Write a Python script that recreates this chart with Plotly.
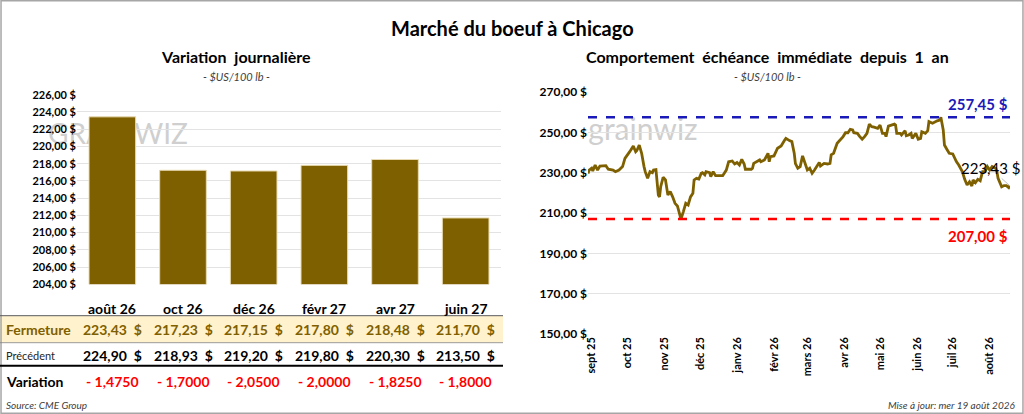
# Marché du boeuf à Chicago : variation journalière + comportement de l'échéance immédiate sur 1 an
import plotly.graph_objects as go

# --- Variation journalière (par échéance) ---
contracts = ["août 26", "oct 26", "déc 26", "févr 27", "avr 27", "juin 27"]
fermeture = [223.43, 217.23, 217.15, 217.80, 218.48, 211.70]
precedent = [224.90, 218.93, 219.20, 219.80, 220.30, 213.50]
variation = [-1.4750, -1.7000, -2.0500, -2.0000, -1.8250, -1.8000]

# --- Échéance immédiate depuis 1 an ---
dates = [
    "2025-08-29", "2025-08-30", "2025-09-01", "2025-09-02", "2025-09-04", "2025-09-06",
    "2025-09-08", "2025-09-10", "2025-09-13", "2025-09-15", "2025-09-19", "2025-09-21",
    "2025-09-24", "2025-09-27", "2025-09-29", "2025-10-03", "2025-10-06", "2025-10-08",
    "2025-10-09", "2025-10-11", "2025-10-13", "2025-10-15", "2025-10-16", "2025-10-18",
    "2025-10-20", "2025-10-22", "2025-10-23", "2025-10-25", "2025-10-26", "2025-10-27",
    "2025-10-28", "2025-10-29", "2025-10-31", "2025-11-02", "2025-11-04", "2025-11-06",
    "2025-11-08", "2025-11-10", "2025-11-12", "2025-11-14", "2025-11-15", "2025-11-17",
    "2025-11-19", "2025-11-21", "2025-11-23", "2025-11-25", "2025-11-26", "2025-11-28",
    "2025-11-30", "2025-12-02", "2025-12-03", "2025-12-05", "2025-12-06", "2025-12-09",
    "2025-12-10", "2025-12-12", "2025-12-14", "2025-12-20", "2025-12-23", "2025-12-25",
    "2025-12-28", "2025-12-30", "2026-01-01", "2026-01-03", "2026-01-05", "2026-01-07",
    "2026-01-08", "2026-01-13", "2026-01-14", "2026-01-15", "2026-01-18", "2026-01-20",
    "2026-01-21", "2026-01-24", "2026-01-27", "2026-01-28", "2026-01-29", "2026-02-01",
    "2026-02-04", "2026-02-07", "2026-02-10", "2026-02-11", "2026-02-14", "2026-02-16",
    "2026-02-18", "2026-02-19", "2026-02-21", "2026-02-23", "2026-02-25", "2026-02-27",
    "2026-03-01", "2026-03-03", "2026-03-05", "2026-03-07", "2026-03-09", "2026-03-11",
    "2026-03-12", "2026-03-15", "2026-03-18", "2026-03-20", "2026-03-21", "2026-03-23",
    "2026-03-26", "2026-03-29", "2026-03-31", "2026-04-02", "2026-04-04", "2026-04-06",
    "2026-04-08", "2026-04-09", "2026-04-12", "2026-04-14", "2026-04-16", "2026-04-18",
    "2026-04-20", "2026-04-22", "2026-04-24", "2026-04-26", "2026-04-29", "2026-05-01",
    "2026-05-03", "2026-05-05", "2026-05-06", "2026-05-08", "2026-05-10", "2026-05-13",
    "2026-05-14", "2026-05-15", "2026-05-18", "2026-05-19", "2026-05-22", "2026-05-23",
    "2026-05-25", "2026-05-27", "2026-05-28", "2026-05-31", "2026-06-02", "2026-06-04",
    "2026-06-05", "2026-06-08", "2026-06-10", "2026-06-11", "2026-06-14", "2026-06-16",
    "2026-06-18", "2026-06-20", "2026-06-21", "2026-06-23", "2026-06-24", "2026-06-26",
    "2026-06-28", "2026-07-01", "2026-07-03", "2026-07-04", "2026-07-06", "2026-07-09",
    "2026-07-11", "2026-07-13", "2026-07-15", "2026-07-17", "2026-07-18", "2026-07-20",
    "2026-07-22", "2026-07-24", "2026-07-26", "2026-07-28", "2026-07-30", "2026-08-01",
    "2026-08-03", "2026-08-06", "2026-08-07", "2026-08-08", "2026-08-11", "2026-08-13",
    "2026-08-15", "2026-08-17", "2026-08-18",
]
prices = [
    229.6, 231.3, 232.2, 230.8, 233.8, 231.3,
    233.3, 233.5, 233.5, 231.7, 231.3, 230.5,
    231.3, 233.0, 237.1, 240.4, 243.2, 240.4,
    241.0, 243.7, 239.6, 233.0, 230.5, 227.2,
    230.5, 230.0, 231.3, 231.5, 224.7, 218.9,
    218.0, 223.0, 227.7, 226.4, 218.9, 220.6,
    218.0, 214.8, 213.5, 209.9, 207.0, 210.7,
    214.8, 214.0, 218.0, 219.8, 226.4, 227.2,
    226.8, 229.7, 230.0, 228.9, 230.5, 230.0,
    228.0, 230.5, 228.5, 228.5, 231.3, 235.4,
    235.8, 234.3, 235.0, 233.8, 236.6, 234.3,
    231.7, 231.7, 232.2, 234.6, 235.4, 236.3,
    235.4, 236.3, 239.6, 235.4, 237.9, 238.3,
    242.1, 243.2, 246.2, 247.0, 245.9, 245.4,
    239.6, 234.5, 232.2, 233.0, 238.3, 235.0,
    231.3, 232.2, 229.7, 231.3, 233.0, 235.0,
    233.3, 234.6, 234.3, 234.6, 238.8, 239.6,
    244.6, 246.6, 247.9, 249.8, 249.8, 251.5,
    251.2, 249.8, 249.5, 247.9, 246.6, 247.9,
    249.5, 254.1, 252.8, 252.6, 252.0, 253.6,
    249.5, 249.5, 247.9, 253.1, 253.6, 254.1,
    253.6, 249.5, 249.5, 248.7, 250.8, 248.3,
    248.7, 249.5, 247.0, 249.5, 246.6, 247.0,
    250.3, 249.5, 250.8, 255.3, 254.5, 255.3,
    255.7, 256.1, 257.45, 251.2, 243.7, 241.6,
    239.6, 239.3, 236.6, 235.5, 233.8, 230.5,
    226.7, 223.9, 225.5, 223.4, 226.4, 225.0,
    226.7, 226.0, 230.5, 230.5, 233.0, 231.3,
    233.0, 232.2, 230.5, 227.2, 223.0, 223.6,
    223.6, 222.6, 223.43,
]
month_ticks = ["2025-09-01", "2025-10-01", "2025-11-01", "2025-12-01", "2026-01-01", "2026-02-01",
               "2026-03-01", "2026-04-01", "2026-05-01", "2026-06-01", "2026-07-01", "2026-08-01"]
month_labels = ["sept 25", "oct 25", "nov 25", "déc 25", "janv 26", "févr 26",
                "mars 26", "avr 26", "mai 26", "juin 26", "juil 26", "août 26"]
high_1y = 257.45
low_1y = 207.00

FONT = "Lato"
GOLD = "#7F6000"
W, H = 1024, 414


def px(x):
    return x / W


def py(y):
    return 1 - y / H


def fr(v, dec=2):
    return f"{v:.{dec}f}".replace(".", ",")


def note(text, x, y, size, color="black", xanchor="center", xref="paper", **kw):
    # every text placed by its centre line so "auto" anchoring never moves it
    return dict(text=text, x=x, y=y, xref=xref, yref="paper", xanchor=xanchor, yanchor="middle",
                showarrow=False, font=dict(family=FONT, size=size, color=color), **kw)


fig = go.Figure()

fig.add_trace(go.Bar(
    x=contracts, y=fermeture, width=0.66,
    marker=dict(color=GOLD, line=dict(color="#E8DAB2", width=1)),
    xaxis="x", yaxis="y", showlegend=False,
))

fig.add_trace(go.Scatter(
    x=dates, y=prices, mode="lines",
    line=dict(color=GOLD, width=2.8),
    xaxis="x2", yaxis="y2", showlegend=False,
))

axis_font = dict(family=FONT, size=11, color="black", weight="bold")

fig.update_layout(
    width=W, height=H,
    margin=dict(l=0, r=0, t=0, b=0, autoexpand=False),
    paper_bgcolor="white", plot_bgcolor="white",
    separators=", ",
    font=dict(family=FONT, color="black"),
    xaxis=dict(domain=[px(77), px(501)], showticklabels=False, showgrid=False,
               zeroline=False, showline=False, ticks="", automargin=False),
    yaxis=dict(domain=[py(284.3), py(94.7)], range=[204, 226], dtick=2,
               tickformat=".2f", ticksuffix=" $", tickfont=axis_font,
               gridcolor="#E3E3E3", zeroline=False, showline=False, ticks="", automargin=False),
    xaxis2=dict(domain=[px(588), px(1010)], type="date",
                range=[dates[0], dates[-1]],
                tickvals=month_ticks, ticktext=month_labels, tickangle=-90,
                tickfont=axis_font, showgrid=False, zeroline=False, showline=False,
                ticks="", anchor="y2", automargin=False),
    yaxis2=dict(domain=[py(334), py(92)], range=[150, 270], tick0=150, dtick=20,
                tickformat=".2f", ticksuffix=" $",
                tickfont=dict(family=FONT, size=12, color="black", weight="bold"),
                gridcolor="#E3E3E3", zeroline=False, showline=False, ticks="",
                anchor="x2", automargin=False),
)

shapes = []
annotations = []

# outer frame
shapes.append(dict(type="rect", xref="paper", yref="paper", x0=0.001, x1=0.999, y0=0.002, y1=0.998,
                   line=dict(color="#A6A6A6", width=1.5)))

# watermarks (kept under the bars)
shapes.append(dict(type="rect", xref="paper", yref="paper", x0=px(58), x1=px(178), y0=py(150), y1=py(116),
                   line=dict(width=0), layer="below",
                   label=dict(text="GRAINWIZ", font=dict(family=FONT, size=28, color="#CFCFCF"))))
shapes.append(dict(type="rect", xref="paper", yref="paper", x0=px(586), x1=px(700), y0=py(146), y1=py(110),
                   line=dict(width=0), layer="below",
                   label=dict(text="grainwiz", font=dict(family=FONT, size=30, color="#CFCFCF"))))

# table background and rules
shapes.append(dict(type="rect", xref="paper", yref="paper", x0=0, x1=px(503), y0=py(342.5), y1=py(316),
                   fillcolor="#FFF2CC", line=dict(width=0), layer="below"))
shapes.append(dict(type="line", xref="paper", yref="paper", x0=0, x1=px(503), y0=py(315.7), y1=py(315.7),
                   line=dict(color="#595959", width=1)))
shapes.append(dict(type="line", xref="paper", yref="paper", x0=0, x1=px(503), y0=py(342.7), y1=py(342.7),
                   line=dict(color="#7F7F7F", width=0.8)))
shapes.append(dict(type="line", xref="paper", yref="paper", x0=0, x1=px(503), y0=py(365.8), y1=py(365.8),
                   line=dict(color="black", width=2)))

# high / low lines
shapes.append(dict(type="line", xref="x2 domain", yref="y2", x0=0, x1=1, y0=high_1y, y1=high_1y,
                   line=dict(color="#1A1AB8", width=2.4, dash="dash")))
shapes.append(dict(type="line", xref="x2 domain", yref="y2", x0=0, x1=1, y0=low_1y, y1=low_1y,
                   line=dict(color="#FF0000", width=2.4, dash="dash")))

# titles
annotations.append(note("<b>Marché du boeuf à Chicago</b>", 0.5, py(28), 20))
annotations.append(note("<b>Variation  journalière</b>", px(236), py(57), 16))
annotations.append(note("<i>- $US/100 lb -</i>", px(236), py(76), 11, "#404040"))
annotations.append(note("<b>Comportement  échéance  immédiate  depuis  1  an</b>", px(767), py(57), 16))
annotations.append(note("<i>- $US/100 lb -</i>", px(767), py(76), 11, "#404040"))

# data table under the bars
for c, f, p, v in zip(contracts, fermeture, precedent, variation):
    annotations.append(note(f"<b>{c}</b>", c, py(308), 14, xref="x"))
    annotations.append(note(f"<b>{fr(f)}  $</b>", c, py(329), 14, GOLD, xref="x"))
    annotations.append(note(f"<b>{fr(p)}  $</b>", c, py(355), 14, xref="x"))
    sign = "-" if v < 0 else "+"
    annotations.append(note(f"<b>{sign} {fr(abs(v), 4)}</b>", c, py(381.5), 14, "#FF0000", xref="x"))

annotations.append(note("<b>Fermeture</b>", px(4), py(329), 14, GOLD, xanchor="left"))
annotations.append(note("Précédent", px(4), py(355), 11, "#262626", xanchor="left"))
annotations.append(note("<b>Variation</b>", px(4), py(381.5), 14, xanchor="left"))
annotations.append(note("<i>Source: CME Group</i>", px(4), py(405), 10, "#404040", xanchor="left"))
annotations.append(note("<i>Mise à jour: mer 19 août 2026</i>", px(1018), py(405), 10, "#404040",
                        xanchor="right"))

# labels on the right chart
annotations.append(dict(text=f"<b>{fr(high_1y)} $</b>", x=1, xref="x2 domain", y=high_1y, yref="y2",
                        xanchor="right", yanchor="bottom", yshift=2, showarrow=False,
                        font=dict(family=FONT, size=15, color="#1A1AB8")))
annotations.append(dict(text=f"<b>{fr(low_1y)} $</b>", x=1, xref="x2 domain", y=low_1y, yref="y2",
                        xanchor="right", yanchor="top", yshift=-6, showarrow=False,
                        font=dict(family=FONT, size=15, color="#FF0000")))
annotations.append(dict(text=f"{fr(prices[-1])} $", x=dates[-1], xref="x2", y=prices[-1], yref="y2",
                        showarrow=True, arrowhead=0, arrowwidth=1, arrowcolor="#BFBFBF",
                        ax=-20, ay=-18, font=dict(family=FONT, size=15, color="black")))

fig.update_layout(shapes=shapes, annotations=annotations)

# page body has a default 8px margin: drop it so the 1024x414 figure sits in the window
fig.write_html("out.html", config={"displayModeBar": False},
               post_script="document.body.style.margin = '0';")
